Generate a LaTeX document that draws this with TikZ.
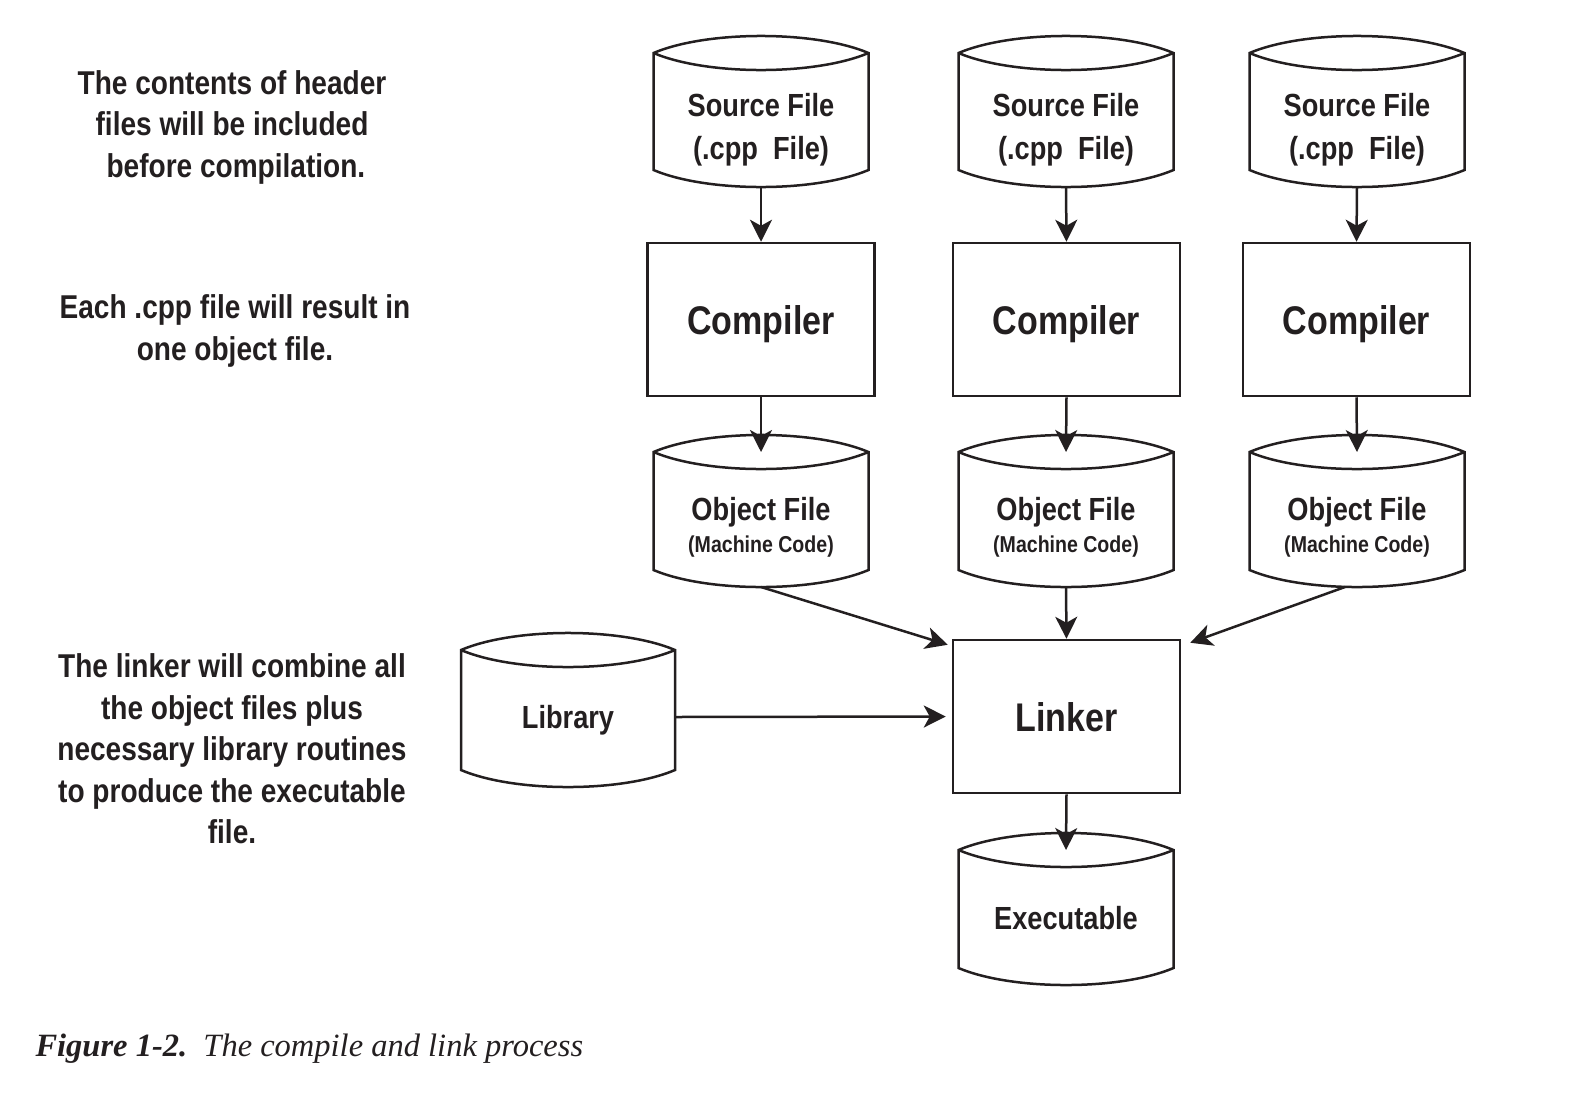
\documentclass[tikz,border=0pt]{standalone}
\usepackage{fontspec}
\setmainfont{Liberation Sans}[FakeStretch=0.85]
\newfontfamily\capfont{Liberation Serif}
\usetikzlibrary{arrows.meta,calc}
\definecolor{ink}{HTML}{231F20}
\tikzset{
  every node/.style={text=ink},
  line/.style={draw=ink, line width=2.5pt},
  arr/.style={draw=ink, line width=2.5pt, -{Stealth[length=22pt,width=22pt,inset=6pt]}},
  procbox/.style={draw=ink, line width=2.5pt, minimum width=227pt, minimum height=153pt, inner sep=0pt, text height=29pt, text depth=0pt, font=\bfseries\fontsize{40}{48}\selectfont},
  cylnode/.style={minimum width=215pt, inner sep=0pt, align=center, font=\bfseries\fontsize{32}{43}\selectfont},
  note/.style={align=center, font=\bfseries\fontsize{33}{41.5}\selectfont},
}
\newcommand\filecyl[4]{% name, halfwidth, up, down
  \draw[line] let \p1=(#1.center) in
    (\x1-#2pt,\y1+#3pt) .. controls (\x1-#2pt*0.5,\y1+#3pt+22.7pt) and (\x1+#2pt*0.5,\y1+#3pt+22.7pt) .. (\x1+#2pt,\y1+#3pt)
    -- (\x1+#2pt,\y1-#4pt) .. controls (\x1+#2pt*0.5,\y1-#4pt-22.7pt) and (\x1-#2pt*0.5,\y1-#4pt-22.7pt) .. (\x1-#2pt,\y1-#4pt) -- cycle
    (\x1-#2pt,\y1+#3pt) .. controls (\x1-#2pt*0.5,\y1+#3pt-22.7pt) and (\x1+#2pt*0.5,\y1+#3pt-22.7pt) .. (\x1+#2pt,\y1+#3pt);
  \coordinate (#1-top) at ($(#1.center)+(0,-#3)$);
  \coordinate (#1-bot) at ($(#1.center)+(0,#4+17)$);
}
\begin{document}
\begin{tikzpicture}[x=1pt,y=-1pt]
\useasboundingbox (0,0) rectangle (1572,1104);
% left notes
\node[note] (n1) at (232,127) {The contents of header\\files will be included\\\ before compilation.};
\node[note] (n2) at (235,331) {Each .cpp file will result in\\one object file.};
\node[note] (n3) at (232,749) {The linker will combine all\\the object files plus\\necessary library routines\\to produce the executable\\file.};
% source files
\node[cylnode] (s1) at (761,130) {Source File\\(.cpp\ \ File)};
\node[cylnode] (s2) at (1066,130) {Source File\\(.cpp\ \ File)};
\node[cylnode] (s3) at (1357,130) {Source File\\(.cpp\ \ File)};
\filecyl{s1}{107.5}{77}{40}
\filecyl{s2}{107.5}{77}{40}
\filecyl{s3}{107.5}{77}{40}
% compilers
\node[procbox] (c1) at (761,319.5) {Compiler};
\node[procbox] (c2) at (1066.5,319.5) {Compiler};
\node[procbox] (c3) at (1356.5,319.5) {Compiler};
% object files
\node[cylnode, font=\bfseries\fontsize{32}{32}\selectfont] (o1) at (761,527) {Object File\\{\fontsize{23}{28}\selectfont(Machine Code)}};
\node[cylnode, font=\bfseries\fontsize{32}{32}\selectfont] (o2) at (1066,527) {Object File\\{\fontsize{23}{28}\selectfont(Machine Code)}};
\node[cylnode, font=\bfseries\fontsize{32}{32}\selectfont] (o3) at (1357,527) {Object File\\{\fontsize{23}{28}\selectfont(Machine Code)}};
\filecyl{o1}{107.5}{75}{43}
\filecyl{o2}{107.5}{75}{43}
\filecyl{o3}{107.5}{75}{43}
% library, linker, executable
\node[cylnode, minimum width=214pt, text height=23pt, text depth=0pt] (lib) at (568,717) {Library};
\filecyl{lib}{107}{67}{53}
\node[procbox] (lk) at (1066.5,716.5) {Linker};
\node[cylnode] (ex) at (1066,918) {Executable};
\filecyl{ex}{107.5}{68}{50}
% arrows
\draw[arr] (s1-bot) -- (c1.north);
\draw[arr] (s2-bot) -- (c2.north);
\draw[arr] (s3-bot) -- (c3.north);
\draw[arr] (c1.south) -- (o1-top);
\draw[arr] (c2.south) -- (o2-top);
\draw[arr] (c3.south) -- (o3-top);
\draw[arr] (o1-bot) -- ($(lk.north west)+(-4,6)$);
\draw[arr] (o2-bot) -- (lk.north);
\draw[arr] ($(o3-bot)+(-12,0)$) -- ($(lk.north east)+(9,4)$);
\draw[arr] (lib.east) -- ($(lk.west)+(-6,0)$);
\draw[arr] (lk.south) -- (ex-top);
% caption
\node[anchor=west, font=\capfont\fontsize{32.5}{38}\selectfont] (cap) at (32,1049) {\bfseries\itshape Figure 1-2.\ \ \mdseries\itshape The compile and link process};
\end{tikzpicture}
\end{document}
